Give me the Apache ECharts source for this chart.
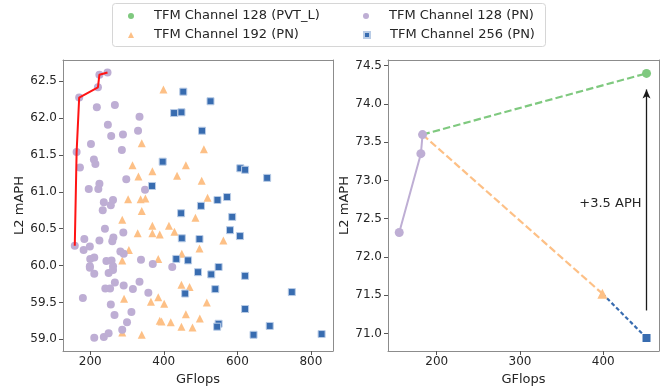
<!DOCTYPE html>
<html>
<head>
<meta charset="utf-8">
<script src="https://cdn.jsdelivr.net/npm/echarts@6/dist/echarts.min.js"></script>
<style>
  html, body { margin: 0; padding: 0; background: #fff; }
  #chart { width: 664px; height: 386px; }
</style>
</head>
<body>
<div id="chart"></div>
<script>
// series names
const NAME_PVT = "TFM Channel 128 (PVT_L)";
const NAME_128 = "TFM Channel 128 (PN)";
const NAME_192 = "TFM Channel 192 (PN)";
const NAME_256 = "TFM Channel 256 (PN)";

// left panel: [GFlops, L2 mAPH]
const left128 = [
  [247, 62.62], [225, 62.59], [221, 62.42], [170, 62.28], [218, 62.15], [267, 62.18],
  [334, 62.02], [248, 61.91], [257, 61.76], [289, 61.78], [330, 61.83], [202, 61.65],
  [163, 61.54], [286, 61.57], [210, 61.44], [214, 61.38], [172, 61.33], [298, 61.17],
  [225, 61.11], [196, 61.04], [222, 61.04], [349, 61.03], [262, 60.89], [237, 60.86],
  [256, 60.82], [234, 60.75], [158, 60.27], [184, 60.36], [182, 60.21], [199, 60.26],
  [225, 60.34], [240, 60.5], [263, 60.38], [260, 60.33], [290, 60.45], [282, 60.19],
  [291, 60.16], [200, 60.09], [211, 60.11], [244, 60.06], [258, 60.07], [199, 59.99],
  [199, 59.97], [211, 59.89], [262, 59.99], [262, 59.94], [250, 59.9], [338, 60.08],
  [370, 60.02], [423, 59.98], [267, 59.77], [241, 59.69], [254, 59.69], [291, 59.73],
  [316, 59.68], [334, 59.78], [358, 59.63], [180, 59.56], [256, 59.47], [312, 59.37],
  [266, 59.33], [300, 59.23], [287, 59.13], [211, 59.02], [237, 59.03], [250, 59.08]
];
const left192 = [
  [399, 62.39], [340, 61.66], [509, 61.58], [315, 61.36], [460, 61.36], [369, 61.28],
  [331, 61.21], [436, 61.22], [503, 61.15], [303, 60.9], [337, 60.9], [350, 60.91],
  [519, 60.92], [340, 60.74], [287, 60.62], [486, 60.65], [369, 60.54], [414, 60.54],
  [429, 60.46], [329, 60.44], [369, 60.44], [389, 60.42], [562, 60.34], [449, 60.16],
  [305, 60.21], [497, 60.23], [287, 60.07], [385, 60.09], [448, 59.74], [470, 59.71],
  [292, 59.55], [385, 59.57], [365, 59.51], [401, 59.48], [517, 59.5], [621, 59.41],
  [460, 59.34], [389, 59.25], [394, 59.24], [419, 59.23], [448, 59.17], [478, 59.16],
  [498, 59.28], [287, 59.09], [340, 59.06]
];
const left256 = [
  [453, 62.36], [527, 62.23], [428, 62.07], [448, 62.08], [504, 61.83], [397, 61.41],
  [608, 61.32], [621, 61.3], [681, 61.19], [368, 61.08], [572, 60.93], [546, 60.89],
  [501, 60.81], [447, 60.71], [586, 60.66], [449, 60.37], [497, 60.36], [580, 60.48],
  [607, 60.4], [434, 60.09], [466, 60.07], [493, 59.91], [549, 59.98], [529, 59.88],
  [621, 59.86], [540, 59.68], [458, 59.62], [748, 59.64], [621, 59.41], [549, 59.21],
  [545, 59.17], [688, 59.18], [644, 59.06], [829, 59.07]
];
// red pareto front through the best 128 points
const leftFront = [[158, 60.27], [163, 61.54], [170, 62.28], [221, 62.42], [225, 62.59], [247, 62.62]];

// right panel
const right128 = [[155, 72.32], [181, 73.35], [183, 73.6]];
const rightPVT = [[183, 73.6], [452, 74.4]];
const right192 = [[183, 73.6], [399, 71.52]];
const right256 = [[399, 71.52], [452, 70.94]];
const arrowFromTo = [[452, 71.3], [452, 74.19]];
const gainLabel = "+3.5 APH";
const gainLabelAt = [446, 72.7];

// ticks
const leftXTicks = [200, 400, 600, 800];
const leftYTicks = [59, 59.5, 60, 60.5, 61, 61.5, 62, 62.5];
const rightXTicks = [200, 300, 400];
const rightYTicks = [71, 71.5, 72, 72.5, 73, 73.5, 74, 74.5];

const colors = { pvt: "#7fc97f", c128: "#beaed4", c192: "#fdc086", c256: "#386cb0" };
const font = "DejaVu Sans";
const txt = "#262626";
const frame = { show: true, onZero: false, lineStyle: { color: "#8c8c8c", width: 1 } };

function xAx(grid, min, max, ticks) {
  return {
    type: "value", gridIndex: grid, min: min, max: max, position: "bottom",
    name: "GFlops", nameLocation: "middle", nameGap: 14,
    nameTextStyle: { fontFamily: font, fontSize: 13, color: txt },
    axisLine: frame, splitLine: { show: false },
    axisTick: { show: true, length: 4, customValues: ticks, lineStyle: { color: "#555" } },
    axisLabel: { customValues: ticks, margin: 5, fontFamily: font, fontSize: 12, color: txt }
  };
}
function yAx(grid, min, max, ticks) {
  return {
    type: "value", gridIndex: grid, min: min, max: max, position: "left",
    name: "L2 mAPH", nameLocation: "middle", nameGap: 35,
    nameTextStyle: { fontFamily: font, fontSize: 13, color: txt },
    axisLine: frame, splitLine: { show: false },
    axisTick: { show: true, length: 4, customValues: ticks, lineStyle: { color: "#555" } },
    axisLabel: {
      customValues: ticks, margin: 6, fontFamily: font, fontSize: 12, color: txt,
      formatter: (v) => v.toFixed(1)
    }
  };
}
// bare axes for the top and right spines
function spine(grid, min, max, position) {
  return {
    type: "value", gridIndex: grid, min: min, max: max, position: position,
    axisLine: frame, axisTick: { show: false }, axisLabel: { show: false },
    splitLine: { show: false }
  };
}
// one legend per entry so the two columns line up like the original
function legendAt(left, top, name, icon) {
  return {
    left: left, top: top, padding: 0, itemGap: 0, itemWidth: 6, itemHeight: 6,
    selectedMode: false,
    textStyle: { fontFamily: font, fontSize: 13, color: txt, lineHeight: 16, padding: [0, 0, 0, 15] },
    data: [{ name: name, icon: icon }]
  };
}
function firstNoSymbol(arr) {
  return arr.map((p, i) => (i === 0 ? { value: p, symbol: "none" } : p));
}

const chart = echarts.init(document.getElementById("chart"), null, { renderer: "canvas" });
chart.setOption({
  animation: false,
  backgroundColor: "#fff",
  graphic: [{
    type: "rect", left: 112, top: 3, z: -1,
    shape: { width: 433, height: 43, r: 3 },
    style: { fill: "#fff", stroke: "#d6d6d6", lineWidth: 1 }
  }],
  legend: [
    legendAt(128, 8, NAME_PVT, "circle"),
    legendAt(128, 27, NAME_192, "triangle"),
    legendAt(363, 8, NAME_128, "circle"),
    legendAt(363, 27, NAME_256, "rect")
  ],
  grid: [
    { left: 63, top: 60, width: 270, height: 291, containLabel: false, outerBoundsMode: "none" },
    { left: 388, top: 60, width: 271, height: 291, containLabel: false, outerBoundsMode: "none" }
  ],
  xAxis: [
    xAx(0, 126, 860, leftXTicks), xAx(1, 141.5, 467, rightXTicks),
    spine(0, 126, 860, "top"), spine(1, 141.5, 467, "top")
  ],
  yAxis: [
    yAx(0, 58.84, 62.79, leftYTicks), yAx(1, 70.77, 74.575, rightYTicks),
    spine(0, 58.84, 62.79, "right"), spine(1, 70.77, 74.575, "right")
  ],
  series: [
    {
      name: NAME_192, type: "scatter", xAxisIndex: 0, yAxisIndex: 0,
      symbol: "triangle", symbolSize: 8, data: left192,
      itemStyle: { color: colors.c192, opacity: 1 }
    },
    {
      name: NAME_128, type: "scatter", xAxisIndex: 0, yAxisIndex: 0,
      symbol: "circle", symbolSize: 8, data: left128,
      itemStyle: { color: colors.c128, opacity: 1 }
    },
    {
      name: NAME_256, type: "scatter", xAxisIndex: 0, yAxisIndex: 0,
      symbol: "rect", symbolSize: 7, data: left256,
      itemStyle: { color: colors.c256, borderColor: "#b9cce6", borderWidth: 1, opacity: 1 }
    },
    {
      name: "front", type: "line", xAxisIndex: 0, yAxisIndex: 0,
      data: leftFront, symbol: "none", z: 5,
      lineStyle: { color: "#ff1414", width: 2 }
    },
    // right panel
    {
      name: NAME_PVT, type: "line", xAxisIndex: 1, yAxisIndex: 1,
      data: firstNoSymbol(rightPVT), symbol: "circle", symbolSize: 9,
      itemStyle: { color: colors.pvt },
      lineStyle: { color: colors.pvt, width: 2.2, type: [7.4, 3.2] }
    },
    {
      name: NAME_192, type: "line", xAxisIndex: 1, yAxisIndex: 1,
      data: firstNoSymbol(right192), symbol: "triangle", symbolSize: 10,
      itemStyle: { color: colors.c192 },
      lineStyle: { color: colors.c192, width: 2.2, type: [7.4, 3.2] }
    },
    {
      name: NAME_256, type: "line", xAxisIndex: 1, yAxisIndex: 1,
      data: firstNoSymbol(right256), symbol: "rect", symbolSize: 8,
      itemStyle: { color: colors.c256 },
      lineStyle: { color: colors.c256, width: 2.2, type: [4, 2.5] },
      markLine: {
        silent: true, symbol: ["none", "arrow"], symbolSize: [6, 9],
        label: { show: false },
        lineStyle: { color: "#1a1a1a", width: 1.3, type: "solid" },
        data: [[{ coord: arrowFromTo[0] }, { coord: arrowFromTo[1] }]]
      },
      markPoint: {
        silent: true, symbol: "circle", symbolSize: 0,
        data: [{ coord: gainLabelAt }],
        label: {
          show: true, position: "left", distance: 0, formatter: gainLabel,
          fontFamily: font, fontSize: 13, color: txt
        }
      }
    },
    {
      name: NAME_128, type: "line", xAxisIndex: 1, yAxisIndex: 1,
      data: right128, symbol: "circle", symbolSize: 9, z: 4,
      itemStyle: { color: colors.c128 },
      lineStyle: { color: colors.c128, width: 2 }
    }
  ]
});
window.addEventListener("resize", () => chart.resize());
</script>
</body>
</html>
